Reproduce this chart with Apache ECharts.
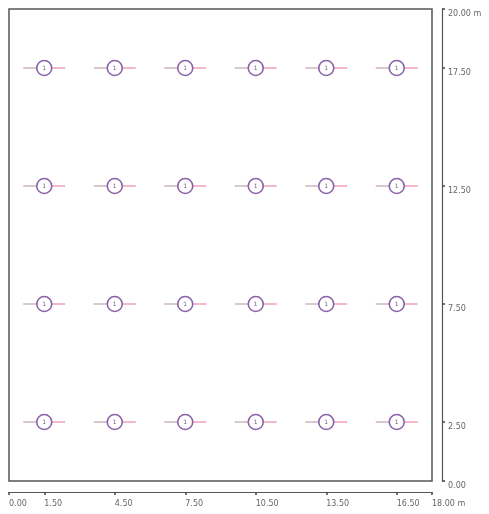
<!DOCTYPE html>
<html><head><meta charset="utf-8">
<script src="https://cdn.jsdelivr.net/npm/echarts@6/dist/echarts.min.js"></script>
<style>html,body{margin:0;padding:0;background:#fff}#c{width:489px;height:514px}</style>
</head><body><div id="c"></div>
<script>
const xPositions = [1.5, 4.5, 7.5, 10.5, 13.5, 16.5];
const yPositions = [2.5, 7.5, 12.5, 17.5];
const xTicks = [0, 1.5, 4.5, 7.5, 10.5, 13.5, 16.5, 18];
const yTicks = [0, 2.5, 7.5, 12.5, 17.5, 20];
const luminaireLabel = '1';

const points = [];
yPositions.forEach(y => xPositions.forEach(x => points.push([x, y])));

const chart = echarts.init(document.getElementById('c'));
const fmt = (max) => v => v === max ? v.toFixed(2) + ' m' : v.toFixed(2);
chart.setOption({
  animation: false,
  grid: {left: 9, right: 57, top: 9, bottom: 33, show: true, borderColor: '#555', borderWidth: 1.5, backgroundColor: '#fff'},
  xAxis: {
    type: 'value', min: 0, max: 18, position: 'bottom', offset: 11,
    splitLine: {show: false},
    axisLine: {show: true, onZero: false, lineStyle: {color: '#555', width: 1.2}},
    axisTick: {show: true, customValues: xTicks, length: 3, inside: false, lineStyle: {color: '#444', width: 1.5}},
    axisLabel: {customValues: xTicks, formatter: fmt(18), fontSize: 8, color: '#666', align: 'left', margin: 8, fontFamily: 'DejaVu Sans'}
  },
  yAxis: {
    type: 'value', min: 0, max: 20, position: 'right', offset: 10,
    splitLine: {show: false},
    axisLine: {show: true, onZero: false, lineStyle: {color: '#555', width: 1.2}},
    axisTick: {show: true, customValues: yTicks, length: 3, lineStyle: {color: '#444', width: 1.5}},
    axisLabel: {customValues: yTicks, formatter: fmt(20), fontSize: 8, color: '#666', align: 'left', verticalAlign: 'top', padding: [1, 0, 0, 0], margin: 6, fontFamily: 'DejaVu Sans'}
  },
  series: [{
    type: 'custom',
    data: points,
    renderItem: (params, api) => {
      const p = api.coord([api.value(0), api.value(1)]);
      const r = 7.5;
      return {type: 'group', children: [
        {type: 'line', shape: {x1: p[0] - 21, y1: p[1], x2: p[0] - r, y2: p[1]}, style: {stroke: '#d8c8d0', lineWidth: 2}},
        {type: 'line', shape: {x1: p[0] + r, y1: p[1], x2: p[0] + 21, y2: p[1]}, style: {stroke: '#f4b8cc', lineWidth: 2}},
        {type: 'circle', shape: {cx: p[0], cy: p[1], r: r}, style: {fill: '#fff', stroke: '#8a62a8', lineWidth: 1.6}},
        {type: 'text', x: p[0], y: p[1], style: {text: luminaireLabel, fontSize: 6, fill: '#7a5a90', align: 'center', verticalAlign: 'middle', fontFamily: 'DejaVu Sans'}}
      ]};
    }
  }]
});
</script></body></html>
